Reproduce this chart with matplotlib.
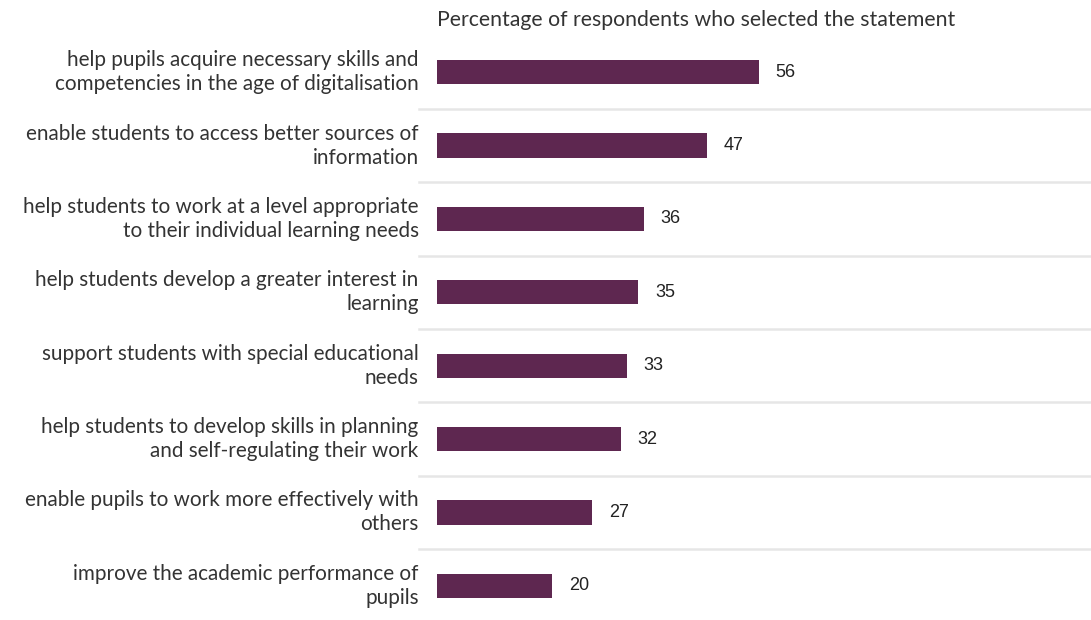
import matplotlib
matplotlib.use("Agg")
import matplotlib.pyplot as plt

statements = [
    "help pupils acquire necessary skills and\ncompetencies in the age of digitalisation",
    "enable students to access better sources of\ninformation",
    "help students to work at a level appropriate\nto their individual learning needs",
    "help students develop a greater interest in\nlearning",
    "support students with special educational\nneeds",
    "help students to develop skills in planning\nand self-regulating their work",
    "enable pupils to work more effectively with\nothers",
    "improve the academic performance of\npupils",
]
percentages = [56, 47, 36, 35, 33, 32, 27, 20]
title = "Percentage of respondents who selected the statement"

bar_color = "#5e2750"
grid_color = "#e6e6e6"

W, H = 1091, 620
fig = plt.figure(figsize=(W / 100, H / 100), dpi=100)
ax_left, ax_right = 437 / W, 1.0
ax_top, ax_bottom = 1 - 35.5 / H, 1 - 622.5 / H
ax = fig.add_axes([ax_left, ax_bottom, ax_right - ax_left, ax_top - ax_bottom])

n = len(percentages)
ypos = list(range(n))
ax.barh(ypos, percentages, height=0.33, color=bar_color, zorder=3)
ax.set_ylim(n - 0.5, -0.5)
ax.set_xlim(0, 113.7)

# separators between categories
for i in range(n - 1):
    ax.plot([-3.2, 113.7], [i + 0.5, i + 0.5], color=grid_color, lw=1.8,
            clip_on=False, zorder=1)

for y, v in zip(ypos, percentages):
    ax.text(v + 2.9, y, str(v), va="center", ha="left", fontsize=13,
            family="Liberation Sans", color="#222222")

for y, s in zip(ypos, statements):
    ax.text(-3.2, y, s, va="center", ha="right", fontsize=14.9,
            family="Lato", color="#333333", linespacing=1.25)

fig.text(ax_left, 1 - 20 / H, title, va="center", ha="left", fontsize=15.3,
         family="Lato", color="#333333")

ax.axis("off")
fig.savefig("out.png", dpi=100, facecolor="white")
